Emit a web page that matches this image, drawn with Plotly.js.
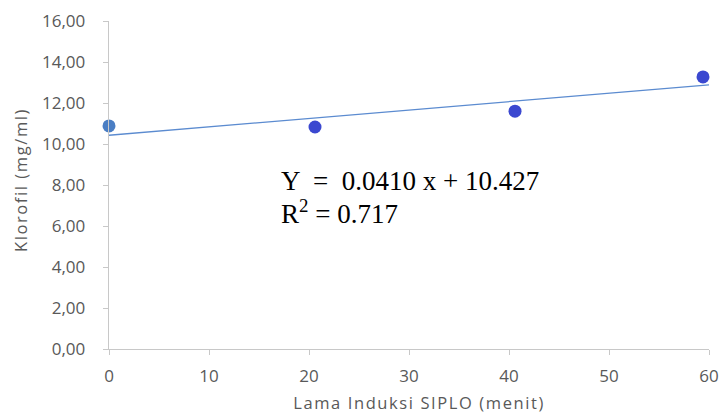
<!DOCTYPE html>
<html><head><meta charset="utf-8">
<script src="https://cdn.plot.ly/plotly-3.0.1.min.js"></script>
<style>html,body{margin:0;padding:0;background:#fff}#c{width:723px;height:415px}</style>
</head><body><div id="c"></div>
<script>
var lamaInduksi = [0, 20.6, 40.6, 59.4];
var klorofil = [10.88, 10.83, 11.6, 13.27];
var pointColors = ['#4a7ec4', '#3b48d0', '#3b48d0', '#3b48d0'];
var slope = 0.0410, intercept = 10.427;
var lineX = [0, 60];
var lineY = lineX.map(function(x){ return slope * x + intercept; });
var yTicks = [0, 2, 4, 6, 8, 10, 12, 14, 16];
var xTicks = [0, 10, 20, 30, 40, 50, 60];
var xTitle = 'Lama Induksi SIPLO (menit)';
var yTitle = 'Klorofil (mg/ml)';
var eqLine = 'Y  =  0.0410 x + 10.427';
var r2Line = 'R<sup>2</sup> = 0.717';

var traces = [
  {x: lineX, y: lineY, mode: 'lines', line: {color: '#5b8bd0', width: 1.3}, hoverinfo: 'skip', showlegend: false},
  {x: lamaInduksi, y: klorofil, mode: 'markers', cliponaxis: false, marker: {size: 13, color: pointColors}, showlegend: false}
];
var axisFont = {family: 'Open Sans, sans-serif', size: 17, color: '#595959'};
var titleFont = {family: 'Open Sans, sans-serif', size: 16.5, color: '#595959'};
var eqFont = {family: 'Liberation Serif, Times New Roman, serif', size: 27, color: '#000'};
var layout = {
  width: 723, height: 415,
  margin: {l: 109, r: 14, t: 21, b: 66},
  paper_bgcolor: '#fff', plot_bgcolor: '#fff',
  separators: ',.',
  showlegend: false,
  xaxis: {
    range: [0, 60], tickvals: xTicks, showgrid: false, zeroline: false,
    showline: true, linecolor: '#c8c8c8', linewidth: 1.3,
    ticks: 'outside', ticklen: 5, tickcolor: '#c8c8c8',
    tickfont: axisFont, ticklabelstandoff: 6
  },
  yaxis: {
    range: [0, 16], tickvals: yTicks, tickformat: '.2f', showgrid: false, zeroline: false,
    showline: true, linecolor: '#c8c8c8', linewidth: 1.3,
    ticks: 'outside', ticklen: 5, tickcolor: '#c8c8c8',
    tickfont: axisFont, ticklabelstandoff: 14
  },
  annotations: [
    {xref: 'paper', yref: 'paper', x: 0.516, y: -0.162, xanchor: 'center', yanchor: 'middle', showarrow: false,
     text: xTitle, font: titleFont},
    {xref: 'paper', yref: 'paper', x: -0.148, y: 0.515, xanchor: 'center', yanchor: 'middle', showarrow: false,
     textangle: -90, text: yTitle, font: titleFont},
    {xref: 'paper', yref: 'paper', x: 0.283, y: 0.512, xanchor: 'left', yanchor: 'middle', showarrow: false, align: 'left',
     text: eqLine, font: eqFont},
    {xref: 'paper', yref: 'paper', x: 0.283, y: 0.418, xanchor: 'left', yanchor: 'middle', showarrow: false, align: 'left',
     text: r2Line, font: eqFont}
  ]
};
Plotly.newPlot('c', traces, layout, {displayModeBar: false, staticPlot: true}).then(function(){
  var anns = document.querySelectorAll('.annotation');
  [0,1].forEach(function(i){ if (anns[i]) anns[i].querySelector('text').style.letterSpacing = '1.6px'; });
});
</script></body></html>
